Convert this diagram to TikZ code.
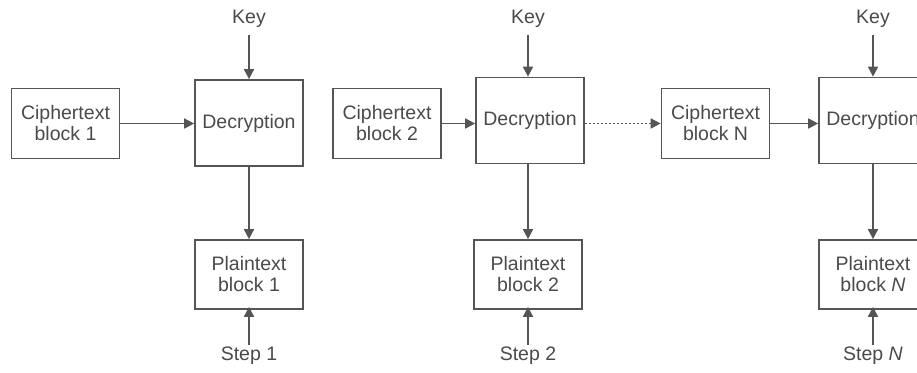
\documentclass[tikz,border=0pt]{standalone}
\usepackage{fontspec}
\setmainfont{Liberation Sans}
\usetikzlibrary{arrows.meta}
\definecolor{linegray}{HTML}{555555}
\definecolor{textgray}{HTML}{4a4a4a}
\begin{document}
\begin{tikzpicture}[x=1pt,y=-1pt,
  every node/.style={font=\fontsize{19.5}{21}\selectfont, text=textgray, align=center, inner sep=0pt},
  blockbox/.style={draw=linegray, line width=1.7pt, minimum width=108pt},
  cbox/.style={blockbox, minimum height=70pt},
  dbox/.style={blockbox, minimum height=86pt},
  pbox/.style={blockbox, minimum height=69pt},
  flow/.style={draw=linegray, line width=1.7pt, -{Triangle[length=10pt,width=10pt]}},
  dotflow/.style={flow, dash pattern=on 2pt off 2pt}]
\useasboundingbox (0,0) rectangle (917,372);
\clip (0,0) rectangle (917,372);

% stage 1
\node[cbox] (c1) at (65.5,123.5) {Ciphertext\\block 1};
\node[dbox] (d1) at (249,123) {Decryption};
\node[pbox] (p1) at (249,274.5) {Plaintext\\block 1};
\node (k1) at (249,19) {Key};
\node (s1) at (249,356) {Step 1};

% stage 2
\node[cbox] (c2) at (387,123.5) {Ciphertext\\block 2};
\node[dbox] (d2) at (530,120.5) {Decryption};
\node[pbox] (p2) at (528,274.5) {Plaintext\\block 2};
\node (k2) at (528,19) {Key};
\node (s2) at (528,356) {Step 2};

% stage N
\node[cbox] (c3) at (715.5,123.5) {Ciphertext\\block N};
\node[dbox] (d3) at (873,120.5) {Decryption};
\node[pbox] (p3) at (873,274.5) {Plaintext\\block \textit{N}};
\node (k3) at (873,19) {Key};
\node (s3) at (873,356) {Step \textit{N}};

% connectors
\foreach \i in {1,2,3} {
  \draw[flow] (k\i.south |- 0,35) -- (k\i.south |- d\i.north);
  \draw[flow] (d\i.south -| k\i.south) -- (p\i.north -| k\i.south);
  \draw[flow] (s\i.north |- 0,345) -- ([yshift=3pt]p\i.south -| s\i.north);
  \draw[flow] (c\i.east) -- (c\i.east -| d\i.west);
}
\draw[dotflow] (d2.east |- c3.west) -- (c3.west);
\end{tikzpicture}
\end{document}
